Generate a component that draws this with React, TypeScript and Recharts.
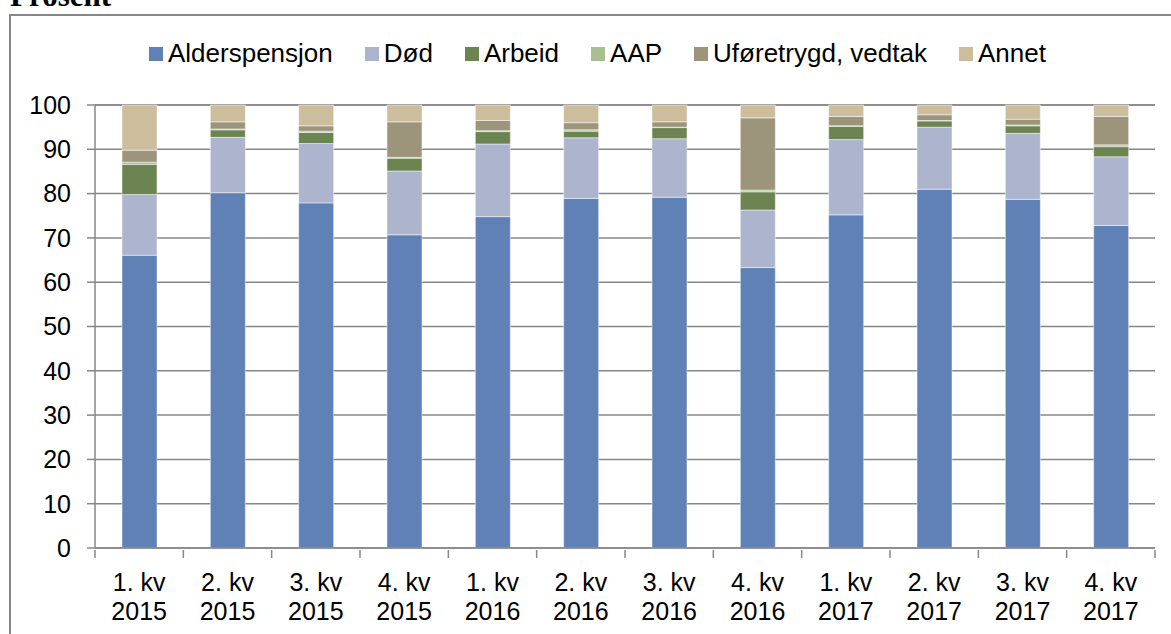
import { BarChart, Bar, XAxis, YAxis, CartesianGrid, Legend } from "recharts";

// quarters shown on the x axis
const quarters = ["1. kv", "2. kv", "3. kv", "4. kv", "1. kv", "2. kv", "3. kv", "4. kv", "1. kv", "2. kv", "3. kv", "4. kv"];
const years = ["2015", "2015", "2015", "2015", "2016", "2016", "2016", "2016", "2017", "2017", "2017", "2017"];

// shares in percent
const alderspensjon = [66.1, 80.2, 77.9, 70.7, 74.8, 78.9, 79.2, 63.3, 75.2, 81.0, 78.7, 72.8];
const dod = [13.7, 12.5, 13.4, 14.4, 16.4, 13.7, 13.2, 13.0, 17.0, 14.0, 14.9, 15.5];
const arbeid = [6.8, 1.7, 2.5, 2.9, 2.8, 1.5, 2.5, 4.1, 3.0, 1.4, 1.7, 2.3];
const aap = [0.5, 0.2, 0.3, 0.2, 0.2, 0.3, 0.1, 0.4, 0.1, 0.1, 0.2, 0.4];
const uforetrygd = [2.7, 1.6, 1.2, 8.0, 2.3, 1.6, 1.2, 16.3, 2.1, 1.3, 1.3, 6.4];
const annet = [10.2, 3.8, 4.7, 3.8, 3.5, 4.0, 3.8, 2.9, 2.6, 2.2, 3.2, 2.6];

const yTicks = [0, 10, 20, 30, 40, 50, 60, 70, 80, 90, 100];

const data = quarters.map((q, i) => ({
  name: q + "|" + years[i],
  alderspensjon: alderspensjon[i],
  dod: dod[i],
  arbeid: arbeid[i],
  aap: aap[i],
  uforetrygd: uforetrygd[i],
  annet: annet[i],
}));

const series = [
  { key: "alderspensjon", label: "Alderspensjon", color: "#6081b5" },
  { key: "dod", label: "Død", color: "#acb4ce" },
  { key: "arbeid", label: "Arbeid", color: "#6b8452" },
  { key: "aap", label: "AAP", color: "#a8bf91" },
  { key: "uforetrygd", label: "Uføretrygd, vedtak", color: "#9c947b" },
  { key: "annet", label: "Annet", color: "#ccbd9c" },
];

const axisGray = "#878787";
const font = "'Liberation Sans', Arial, sans-serif";

const XTick = (props: any) => {
  const { x, y, payload, index } = props;
  const half = payload?.offset || 44.17;
  const [l1, l2] = String(payload.value).split("|");
  return (
    <g>
      <line x1={x - half} y1={y} x2={x - half} y2={y + 8} stroke={axisGray} strokeWidth={1.5} />
      {index === quarters.length - 1 && (
        <line x1={x + half} y1={y} x2={x + half} y2={y + 8} stroke={axisGray} strokeWidth={1.5} />
      )}
      <text x={x} y={y + 41} textAnchor="middle" fontSize={25} fontFamily={font} fill="#000">
        {l1}
      </text>
      <text x={x} y={y + 70} textAnchor="middle" fontSize={25} fontFamily={font} fill="#000">
        {l2}
      </text>
    </g>
  );
};

const legendOrder = (item: any) => series.findIndex((s) => s.label === item.value);

const LegendContent = ({ payload }: any) => {
  const items = [...(payload || [])].sort((a: any, b: any) => legendOrder(a) - legendOrder(b));
  return (
    <div style={{ display: "flex", alignItems: "center", gap: 32, fontFamily: font, fontSize: 26, whiteSpace: "nowrap" }}>
      {items.map((p: any) => (
        <div key={p.value} style={{ display: "flex", alignItems: "center" }}>
          <span style={{ width: 14, height: 14, background: p.color, marginRight: 5, display: "inline-block" }} />
          <span style={{ color: "#000" }}>{p.value}</span>
        </div>
      ))}
    </div>
  );
};

export default function App() {
  return (
    <div style={{ position: "fixed", left: 0, top: 0, width: 1171, height: 634, overflow: "hidden", background: "#fff" }}>
      <div
        style={{
          position: "absolute",
          left: 10,
          top: -22,
          fontFamily: "'Liberation Serif', 'Times New Roman', serif",
          fontWeight: "bold",
          fontSize: 31,
          lineHeight: "36px",
          color: "#000",
        }}
      >
        Prosent
      </div>
      <div
        style={{
          position: "absolute",
          left: 9,
          top: 14,
          width: 1200,
          height: 700,
          border: `2px solid ${axisGray}`,
          boxSizing: "border-box",
        }}
      />
      <div style={{ position: "absolute", left: 0, top: 0 }}>
        <BarChart width={1171} height={634} data={data} margin={{ top: 105, right: 16, bottom: 0, left: 15 }}>
          <CartesianGrid vertical={false} stroke={axisGray} strokeWidth={1.5} />
          <XAxis
            dataKey="name"
            height={86}
            interval={0}
            tickSize={0}
            tickLine={false}
            axisLine={{ stroke: axisGray, strokeWidth: 1.5 }}
            tick={<XTick />}
          />
          <YAxis
            width={80}
            domain={[0, 100]}
            ticks={yTicks}
            interval={0}
            tickSize={8}
            tickMargin={16}
            axisLine={{ stroke: axisGray, strokeWidth: 1.5 }}
            tickLine={{ stroke: axisGray, strokeWidth: 1.5 }}
            tick={{ fontSize: 25, fontFamily: font, fill: "#000" }}
          />
          <Legend
            layout="horizontal"
            verticalAlign="middle"
            align="center"
            itemSorter={legendOrder}
            wrapperStyle={{ left: 149, top: 38, width: "auto", height: "auto" }}
            content={<LegendContent />}
          />
          {series.map((s) => (
            <Bar
              key={s.key}
              dataKey={s.key}
              name={s.label}
              stackId="a"
              fill={s.color}
              stroke="#ffffff"
              strokeOpacity={0.6}
              strokeWidth={0.8}
              barSize={35}
              isAnimationActive={false}
            />
          ))}
        </BarChart>
      </div>
    </div>
  );
}
